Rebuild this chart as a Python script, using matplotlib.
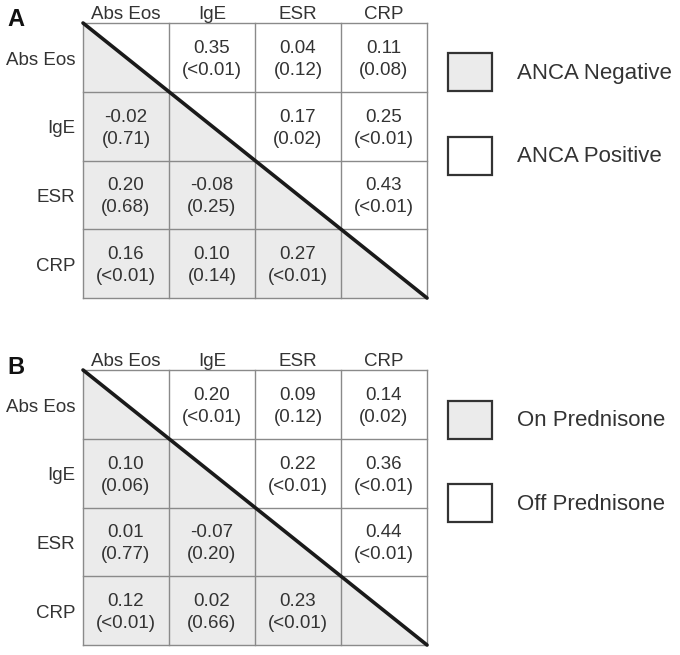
import matplotlib
matplotlib.use("Agg")
import matplotlib.pyplot as plt
from matplotlib.patches import Rectangle, Polygon

plt.rcParams["font.family"] = ["Liberation Sans", "DejaVu Sans"]

W, H = 680, 655
TXT = "#333333"
SHADE = "#ebebeb"
GRID = "#8a8a8a"

variables = ["Abs Eos", "IgE", "ESR", "CRP"]

# upper triangle: ANCA positive / off prednisone; lower: ANCA negative / on prednisone
# r values and p values, None on the diagonal
r_a = [[None, "0.35", "0.04", "0.11"],
       ["-0.02", None, "0.17", "0.25"],
       ["0.20", "-0.08", None, "0.43"],
       ["0.16", "0.10", "0.27", None]]
p_a = [[None, "<0.01", "0.12", "0.08"],
       ["0.71", None, "0.02", "<0.01"],
       ["0.68", "0.25", None, "<0.01"],
       ["<0.01", "0.14", "<0.01", None]]

r_b = [[None, "0.20", "0.09", "0.14"],
       ["0.10", None, "0.22", "0.36"],
       ["0.01", "-0.07", None, "0.44"],
       ["0.12", "0.02", "0.23", None]]
p_b = [[None, "<0.01", "0.12", "0.02"],
       ["0.06", None, "<0.01", "<0.01"],
       ["0.77", "0.20", None, "<0.01"],
       ["<0.01", "0.66", "<0.01", None]]

legend_a = ["ANCA Negative", "ANCA Positive"]
legend_b = ["On Prednisone", "Off Prednisone"]


def px_axes(fig, left, top, right, bottom):
    return fig.add_axes([left / W, 1 - bottom / H, (right - left) / W, (bottom - top) / H])


def draw_matrix(ax, r, p):
    n = len(variables)
    ax.set_xlim(0, n)
    ax.set_ylim(n, 0)
    ax.axis("off")
    # shaded lower triangle
    ax.add_patch(Polygon([(0, 0), (0, n), (n, n)], closed=True,
                         facecolor=SHADE, edgecolor="none", zorder=0))
    for k in range(n + 1):
        ax.plot([k, k], [0, n], color=GRID, lw=1.0, zorder=1, clip_on=False)
        ax.plot([0, n], [k, k], color=GRID, lw=1.0, zorder=1, clip_on=False)
    ax.plot([0, n], [0, n], color="#1a1a1a", lw=2.6, zorder=3,
            solid_capstyle="round", clip_on=False)
    for i in range(n):
        for j in range(n):
            if r[i][j] is None:
                continue
            ax.text(j + 0.5, i + 0.5 - 0.13, r[i][j], ha="center", va="center",
                    fontsize=13.5, color=TXT)
            ax.text(j + 0.5, i + 0.5 + 0.19, "(" + p[i][j] + ")", ha="center",
                    va="center", fontsize=13.5, color=TXT)
    for k, name in enumerate(variables):
        ax.text(k + 0.5, -0.13, name, ha="center", va="center",
                fontsize=13.5, color=TXT, clip_on=False)
        ax.text(-0.09, k + 0.54, name, ha="right", va="center",
                fontsize=13.5, color=TXT, clip_on=False)


fig = plt.figure(figsize=(W / 100, H / 100), dpi=100)
fig.patch.set_facecolor("white")

ax_a = px_axes(fig, 83, 23, 427, 298)
draw_matrix(ax_a, r_a, p_a)
ax_b = px_axes(fig, 83, 370, 427, 645)
draw_matrix(ax_b, r_b, p_b)

# overlay in pixel coordinates for panel letters and legends
ov = fig.add_axes([0, 0, 1, 1], zorder=-1)
ov.set_xlim(0, W)
ov.set_ylim(H, 0)
ov.axis("off")

ov.text(7, 20, "A", fontsize=17, fontweight="bold", color="#111111", va="center")
ov.text(7, 367, "B", fontsize=17, fontweight="bold", color="#111111", va="center")

for labels, ys in [(legend_a, [53, 137]), (legend_b, [401, 484])]:
    for lab, y0, fc in zip(labels, ys, [SHADE, "white"]):
        ov.add_patch(Rectangle((448, y0), 44, 38, facecolor=fc,
                               edgecolor="#333333", lw=1.6))
        ov.text(517, y0 + 20, lab, fontsize=16, color=TXT, va="center", ha="left")

fig.savefig("out.png", dpi=100)
